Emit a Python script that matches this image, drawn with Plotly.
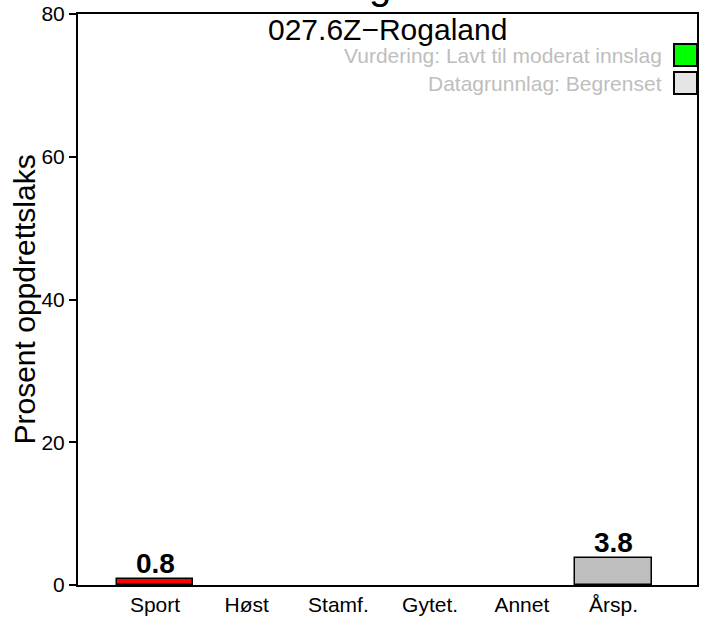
import plotly.graph_objects as go

# Data
categories = ['Sport', 'Høst', 'Stamf.', 'Gytet.', 'Annet', 'Årsp.']
values = [0.8, 0, 0, 0, 0, 3.8]
bar_colors = ['#ff0000', '#ff0000', '#ff0000', '#ff0000', '#ff0000', '#bebebe']

title_text = 'Ogna'
subtitle_text = '027.6Z\u2212Rogaland'
y_label = 'Prosent oppdrettslaks'
legend_labels = ['Vurdering: Lavt til moderat innslag', 'Datagrunnlag: Begrenset']
legend_colors = ['#00ff00', '#e5e5e5']

W, H = 706, 621
L, R, T, B = 78, 9, 14, 36
pw, ph = W - L - R, H - T - B

FONT = 'Liberation Sans, Arial, sans-serif'

line_widths = [1.5 if v > 0 else 0 for v in values]

fig = go.Figure()
fig.add_trace(go.Bar(
    x=categories, y=values, width=0.833,
    marker=dict(color=bar_colors, line=dict(color='black', width=line_widths)),
    hoverinfo='skip',
))


def px_x(px):
    return (px - L) / pw


def px_y(py):
    return 1 - (py - T) / ph


annotations = [
    dict(text=subtitle_text, x=0.5, y=px_y(29), xref='paper', yref='paper',
         xanchor='center', yanchor='middle', showarrow=False,
         font=dict(family=FONT, size=30, color='black')),
    # main title sits above the page; only its descender shows
    dict(text=title_text, x=0.5, y=px_y(9), xref='paper', yref='paper',
         xanchor='center', yanchor='bottom', showarrow=False,
         font=dict(family=FONT, size=40, color='black')),
    dict(text=y_label, x=px_x(24), y=0.5, xref='paper', yref='paper',
         xanchor='center', yanchor='middle', textangle=-90, showarrow=False,
         font=dict(family=FONT, size=30, color='black')),
]

# value labels above the non-empty bars
for cat, v in zip(categories, values):
    if v > 0:
        annotations.append(dict(text=f'<b>{v:.1f}</b>', x=cat, y=v, xref='x', yref='y',
                                xanchor='center', yanchor='bottom', yshift=-2, showarrow=False,
                                font=dict(family=FONT, size=28, color='black')))

shapes = []
for i, (lab, col) in enumerate(zip(legend_labels, legend_colors)):
    yc = 55 + 28 * i
    annotations.append(dict(text=lab, x=px_x(664), y=px_y(yc), xref='paper', yref='paper',
                            xanchor='right', yanchor='middle', showarrow=False,
                            font=dict(family=FONT, size=21, color='#bebebe')))
    shapes.append(dict(type='rect', xref='paper', yref='paper',
                       x0=px_x(674), x1=1.0, y0=px_y(yc - 11), y1=px_y(yc + 11),
                       fillcolor=col, line=dict(color='black', width=2)))

fig.update_layout(
    width=W, height=H,
    margin=dict(l=L, r=R, t=T, b=B, autoexpand=False),
    paper_bgcolor='white', plot_bgcolor='white',
    showlegend=False,
    bargap=0,
    annotations=annotations,
    shapes=shapes,
    font=dict(family=FONT, color='black'),
)
fig.update_xaxes(
    range=[-0.84, 5.91], showgrid=False, zeroline=False,
    showline=True, mirror=True, linecolor='black', linewidth=2,
    ticks='', tickfont=dict(size=21, color='black'),
)
fig.update_yaxes(
    range=[0, 80], tickvals=[0, 20, 40, 60, 80], showgrid=False, zeroline=False,
    showline=True, mirror=True, linecolor='black', linewidth=2,
    ticks='outside', ticklen=7, tickwidth=1.5, tickcolor='black',
    tickfont=dict(size=21, color='black'),
)

# page body has a default 8px margin; drop it so the figure fills the window
fig.write_html('out.html', config={'displayModeBar': False},
               post_script="document.body.style.margin='0';")
